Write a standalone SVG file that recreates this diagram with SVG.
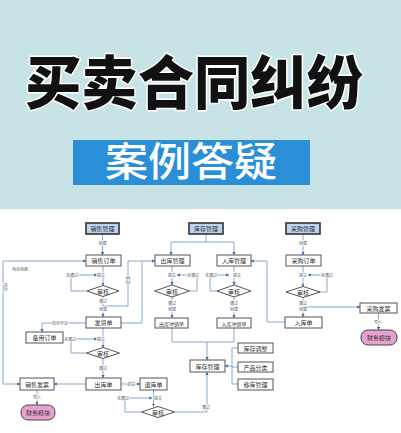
<svg xmlns="http://www.w3.org/2000/svg" width="401" height="433" viewBox="0 0 401 433">
<style>
.bg{fill:#c8e3e6}
.title{font-family:"Noto Sans CJK SC",sans-serif;font-weight:900;font-size:58px;fill:#111;stroke:#fff;stroke-width:3;paint-order:stroke;stroke-linejoin:round}
.sub{font-family:"Noto Sans CJK SC",sans-serif;font-weight:500;font-size:40px;fill:#fff}
.box{fill:#fff;stroke:#555;stroke-width:1}
.hbox{fill:#b9d4ee;stroke:#333;stroke-width:1.6}
.fin{fill:#e6a2cf;stroke:#444;stroke-width:1}
.dia{fill:#fff;stroke:#555;stroke-width:1}
.t{font-family:"Noto Sans CJK SC",sans-serif;font-size:6px;fill:#333;text-anchor:middle;dominant-baseline:central}
.s{font-size:5px}
.l{font-family:"Noto Sans CJK SC",sans-serif;font-size:4px;fill:#555;text-anchor:middle;dominant-baseline:central;stroke:#fff;stroke-width:1.2;paint-order:stroke}
.c{fill:none;stroke:#6a96c8;stroke-width:0.8}
.a{marker-end:url(#ah)}
</style>
<defs>
<marker id="ah" viewBox="0 0 6 6" refX="5.5" refY="3" markerWidth="4" markerHeight="4" orient="auto"><path d="M0,0 L6,3 L0,6 z" fill="#3d6fae"/></marker>
<marker id="as" viewBox="0 0 6 6" refX="0.5" refY="3" markerWidth="4" markerHeight="4" orient="auto"><path d="M6,0 L0,3 L6,6 z" fill="#3d6fae"/></marker>
</defs>
<rect x="0" y="0" width="401" height="209" class="bg"/>
<rect x="0" y="209" width="401" height="224" fill="#fff"/>
<text x="194" y="104" class="title" text-anchor="middle" textLength="338" lengthAdjust="spacingAndGlyphs">买卖合同纠纷</text>
<rect x="73" y="140" width="237" height="45" fill="#2b8fd8"/>
<text x="191" y="176" class="sub" text-anchor="middle" textLength="172" lengthAdjust="spacingAndGlyphs">案例答疑</text>

<g id="connectors">
<path class="c a" d="M102.5,234 V255"/>
<path class="c a" d="M103,266 V285.5"/>
<path class="c a" d="M87,291 H71 V275 H97"/>
<path class="c a" d="M103,296.5 V317"/>
<path class="c a" d="M103,306 H128 V261 H155"/>
<path class="c" d="M121,323 H142 V261"/>
<path class="c a" d="M86,323 H42 V332"/>
<path class="c a" d="M103,328 V347.5"/>
<path class="c a" d="M86.5,353 H71 V339 H97"/>
<path class="c a" d="M103,358.5 V378"/>
<path class="c a" d="M86,384 H54"/>
<path class="c a" style="marker-start:url(#as)" d="M20,384 H3 V261 H86"/>
<path class="c a" d="M37,390 V405"/>
<path class="c a" d="M121,384 H140"/>
<path class="c a" d="M153.5,390 V406.5"/>
<path class="c a" d="M141.5,412 H125 V398 H152"/>
<path class="c a" d="M174.5,412 H207 V372"/>
<path class="c" d="M206,234 V242 M171,242 H234"/>
<path class="c a" d="M171,242 V255"/>
<path class="c a" d="M234,242 V255"/>
<path class="c a" d="M172,266 V285"/>
<path class="c a" d="M189.5,291 H197 V275 H177"/>
<path class="c a" d="M172,297 V318"/>
<path class="c a" d="M234,266 V285"/>
<path class="c a" d="M217,291 H210 V275 H229"/>
<path class="c a" d="M234,297 V318"/>
<path class="c" d="M172,328 V342 H234 V328"/>
<path class="c a" d="M207,342 V360"/>
<path class="c" d="M232,348 V384 M232,348 H238 M232,367 H238 M232,384 H238"/>
<path class="c a" d="M232,366 H225"/>
<path class="c a" d="M285,322 H267 V261 H251"/>
<path class="c a" d="M303,234 V255"/>
<path class="c a" d="M303,266 V286.5"/>
<path class="c a" d="M320,292 H327 V275 H308"/>
<path class="c a" d="M303,297.5 V317"/>
<path class="c a" d="M303,307 H360"/>
<path class="c a" d="M378.5,313 V330"/>
</g>

<g id="labels">
<text class="l" x="102.5" y="243">创建</text>
<text class="l" x="101" y="275">提交</text>
<text class="l" x="72" y="275">未通过</text>
<text class="l" x="103" y="301">通过</text>
<text class="l" x="103" y="309">创建</text>
<text class="l" x="128" y="280" transform="rotate(90 128 280)">发货</text>
<text class="l" x="20" y="269">电话电函</text>
<text class="l" x="5" y="287" transform="rotate(90 5 287)">传真</text>
<text class="l" x="60" y="323">库存不足</text>
<text class="l" x="101" y="339">提交</text>
<text class="l" x="70" y="339">未通过</text>
<text class="l" x="103" y="368">通过</text>
<text class="l" x="37" y="397">导入</text>
<text class="l" x="131" y="384">退货</text>
<text class="l" x="158" y="398">提交</text>
<text class="l" x="123" y="398">未通过</text>
<text class="l" x="206" y="407">通过</text>
<text class="l" x="172" y="275">提交</text>
<text class="l" x="193" y="275">未通过</text>
<text class="l" x="172" y="303">通过</text>
<text class="l" x="172" y="309">创建</text>
<text class="l" x="237" y="275">提交</text>
<text class="l" x="211" y="275">未通过</text>
<text class="l" x="234" y="303">通过</text>
<text class="l" x="234" y="309">创建</text>
<text class="l" x="303" y="243">创建</text>
<text class="l" x="303" y="275">提交</text>
<text class="l" x="327" y="275">未通过</text>
<text class="l" x="303" y="303">通过</text>
<text class="l" x="303" y="309">创建</text>
<text class="l" x="378" y="322">导入</text>
</g>

<g id="n-xsgl"><rect class="hbox" x="86" y="223" width="33" height="11"/><text class="t" x="102.5" y="228.5">销售管理</text></g>
<g id="n-kcgl"><rect class="hbox" x="189" y="223" width="34" height="11"/><text class="t" x="206" y="228.5">库存管理</text></g>
<g id="n-cggl"><rect class="hbox" x="286" y="223" width="34" height="11"/><text class="t" x="303" y="228.5">采购管理</text></g>
<g id="n-xsdd"><rect class="box" x="86" y="255" width="35" height="11"/><text class="t" x="103.5" y="260.5">销售订单</text></g>
<g id="n-ckgl"><rect class="box" x="155" y="255" width="35" height="11"/><text class="t" x="172.5" y="260.5">出库管理</text></g>
<g id="n-rkgl"><rect class="box" x="217" y="255" width="34" height="11"/><text class="t" x="234" y="260.5">入库管理</text></g>
<g id="n-cgdd"><rect class="box" x="286" y="255" width="35" height="11"/><text class="t" x="303.5" y="260.5">采购订单</text></g>
<g id="d-1"><path class="dia" d="M87,291 L103,285.5 L119,291 L103,296.5 z"/><text class="t" x="103" y="291">审核</text></g>
<g id="d-2"><path class="dia" d="M154.5,291 L172,285 L189.5,291 L172,297 z"/><text class="t" x="172" y="291">审核</text></g>
<g id="d-3"><path class="dia" d="M217,291 L234,285 L251,291 L234,297 z"/><text class="t" x="234" y="291">审核</text></g>
<g id="d-4"><path class="dia" d="M286,292 L303,286.5 L320,292 L303,297.5 z"/><text class="t" x="303" y="292">审核</text></g>
<g id="n-fhd"><rect class="box" x="86" y="317" width="35" height="11"/><text class="t" x="103.5" y="322.5">发货单</text></g>
<g id="n-ckcx"><rect class="box" x="155" y="318" width="33" height="10"/><text class="t s" x="171.5" y="323">出库冲销单</text></g>
<g id="n-rkcx"><rect class="box" x="217" y="318" width="34" height="10"/><text class="t s" x="234" y="323">入库冲销单</text></g>
<g id="n-rkd"><rect class="box" x="285" y="317" width="37" height="11"/><text class="t" x="303.5" y="322.5">入库单</text></g>
<g id="n-cgfp"><rect class="box" x="360" y="303" width="37" height="10"/><text class="t" x="378.5" y="308">采购发票</text></g>
<g id="n-cwmk2"><rect class="fin" x="361" y="330" width="36" height="15" rx="7"/><text class="t" x="379" y="337.5">财务模块</text></g>
<g id="n-bydd"><rect class="box" x="26" y="332" width="37" height="11"/><text class="t" x="44.5" y="337.5">备用订单</text></g>
<g id="d-5"><path class="dia" d="M86.5,353 L103,347.5 L119.5,353 L103,358.5 z"/><text class="t" x="103" y="353">审核</text></g>
<g id="n-kcgl2"><rect class="box" x="190" y="360" width="35" height="12"/><text class="t" x="207.5" y="366">库存管理</text></g>
<g id="n-kctz"><rect class="box" x="238" y="343" width="35" height="10"/><text class="t" x="255.5" y="348">库存调整</text></g>
<g id="n-cpfl"><rect class="box" x="238" y="362" width="35" height="10"/><text class="t" x="255.5" y="367">产品分类</text></g>
<g id="n-ykgl"><rect class="box" x="238" y="379" width="35" height="11"/><text class="t" x="255.5" y="384.5">移库管理</text></g>
<g id="n-xsfp"><rect class="box" x="20" y="378" width="34" height="12"/><text class="t" x="37" y="384">销售发票</text></g>
<g id="n-ckd"><rect class="box" x="86" y="378" width="35" height="12"/><text class="t" x="103.5" y="384">出库单</text></g>
<g id="n-tkd"><rect class="box" x="140" y="378" width="27" height="12"/><text class="t" x="153.5" y="384">退库单</text></g>
<g id="d-6"><path class="dia" d="M141.5,412 L158,406.5 L174.5,412 L158,417.5 z"/><text class="t" x="158" y="412">审核</text></g>
<g id="n-cwmk1"><rect class="fin" x="21" y="405" width="34" height="15" rx="7"/><text class="t" x="38" y="412.5">财务模块</text></g>
</svg>
